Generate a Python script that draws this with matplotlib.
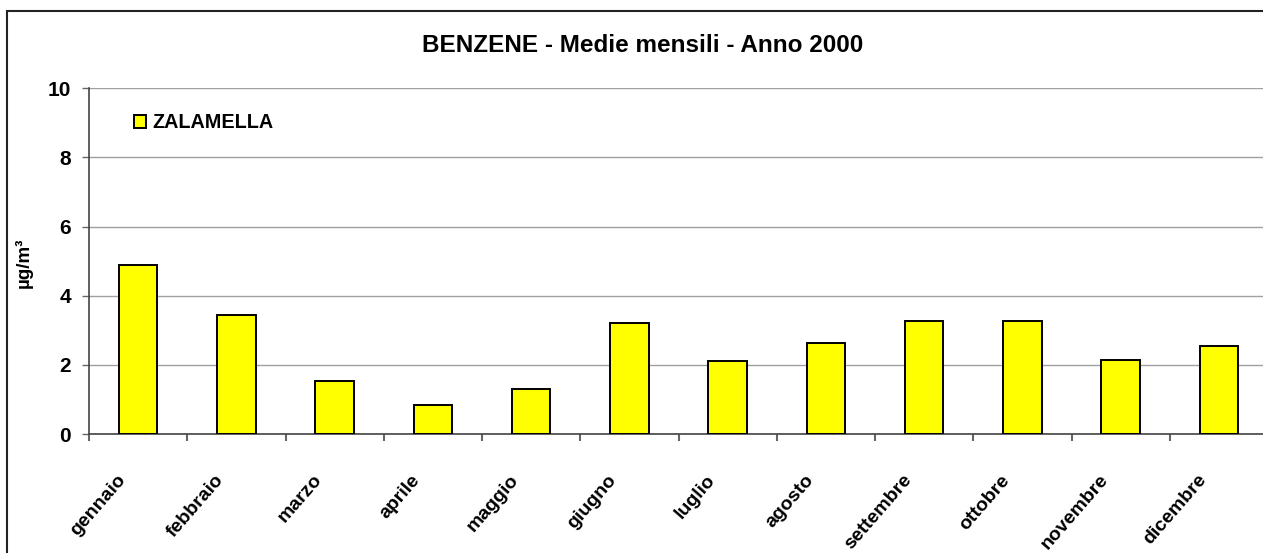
import numpy as np
import matplotlib.pyplot as plt
from matplotlib.patches import Rectangle
from matplotlib.transforms import ScaledTranslation

# Benzene monthly means, year 2000
months = ["gennaio", "febbraio", "marzo", "aprile", "maggio", "giugno",
          "luglio", "agosto", "settembre", "ottobre", "novembre", "dicembre"]
zalamella = [4.89, 3.45, 1.52, 0.85, 1.30, 3.22, 2.10, 2.64, 3.27, 3.27, 2.15, 2.55]
y_ticks = [0, 2, 4, 6, 8, 10]

plt.rcParams['font.family'] = ['Liberation Sans', 'DejaVu Sans']
plt.rcParams['font.weight'] = 'bold'

W, H = 1263, 553
fig = plt.figure(figsize=(W / 100, H / 100), dpi=100)

# outer chart frame (cropped on the right and bottom)
fig.patches.append(Rectangle((7 / W, -0.1), 1.2, 1 - 11 / H + 0.1,
                             transform=fig.transFigure, fill=False,
                             edgecolor='#222222', linewidth=1.5))

ax = fig.add_axes([89 / W, 1 - 434 / H, (1268 - 89) / W, (434 - 88.3) / H])

x = np.arange(len(months))
ax.bar(x, zalamella, width=0.39, color='#FFFF00', edgecolor='black',
       linewidth=1.4, label='ZALAMELLA', zorder=3)

ax.set_xlim(-0.5, len(months) - 0.5)
ax.set_ylim(0, 10)
ax.set_yticks(y_ticks)
ax.set_yticklabels([str(v) for v in y_ticks], fontsize=15, fontweight='bold')
ax.grid(axis='y', color='#a0a0a0', linewidth=1, zorder=0)

for s in ['top', 'right']:
    ax.spines[s].set_visible(False)
ax.spines['left'].set_color('#444444')
ax.spines['bottom'].set_color('#444444')
ax.spines['left'].set_linewidth(1.2)
ax.spines['bottom'].set_linewidth(1.2)

ax.tick_params(axis='y', length=5, color='#666666', width=1, pad=8)

# labels at category centres, ticks at category boundaries
ax.set_xticks(x)
ax.set_xticklabels(months, rotation=49, ha='right', va='top',
                   fontsize=14, fontweight='bold')
ax.tick_params(axis='x', which='major', length=0, pad=27)
ax.set_xticks(np.arange(-0.5, len(months)), minor=True)
ax.tick_params(axis='x', which='minor', length=5, color='#666666', width=1.5)
shift = ScaledTranslation(-9 / 100, 0, fig.dpi_scale_trans)
for lab in ax.get_xticklabels():
    lab.set_transform(lab.get_transform() + shift)

ax.set_ylabel('µg/m³', fontsize=13.5, fontweight='bold')
ax.yaxis.set_label_coords(33 / W, 1 - 263 / H, transform=fig.transFigure)

fig.text(643 / W, 1 - 45 / H, 'BENZENE - Medie mensili - Anno 2000',
         ha='center', va='center', fontsize=17.5, fontweight='bold')

ax.legend(loc='center left', bbox_to_anchor=(134 / W, 1 - 123 / H),
          bbox_transform=fig.transFigure, frameon=False,
          handlelength=0.62, handleheight=0.62, handletextpad=0.3,
          borderpad=0, borderaxespad=0, prop={'weight': 'bold', 'size': 14.2})

fig.savefig('out.png', dpi=100)
